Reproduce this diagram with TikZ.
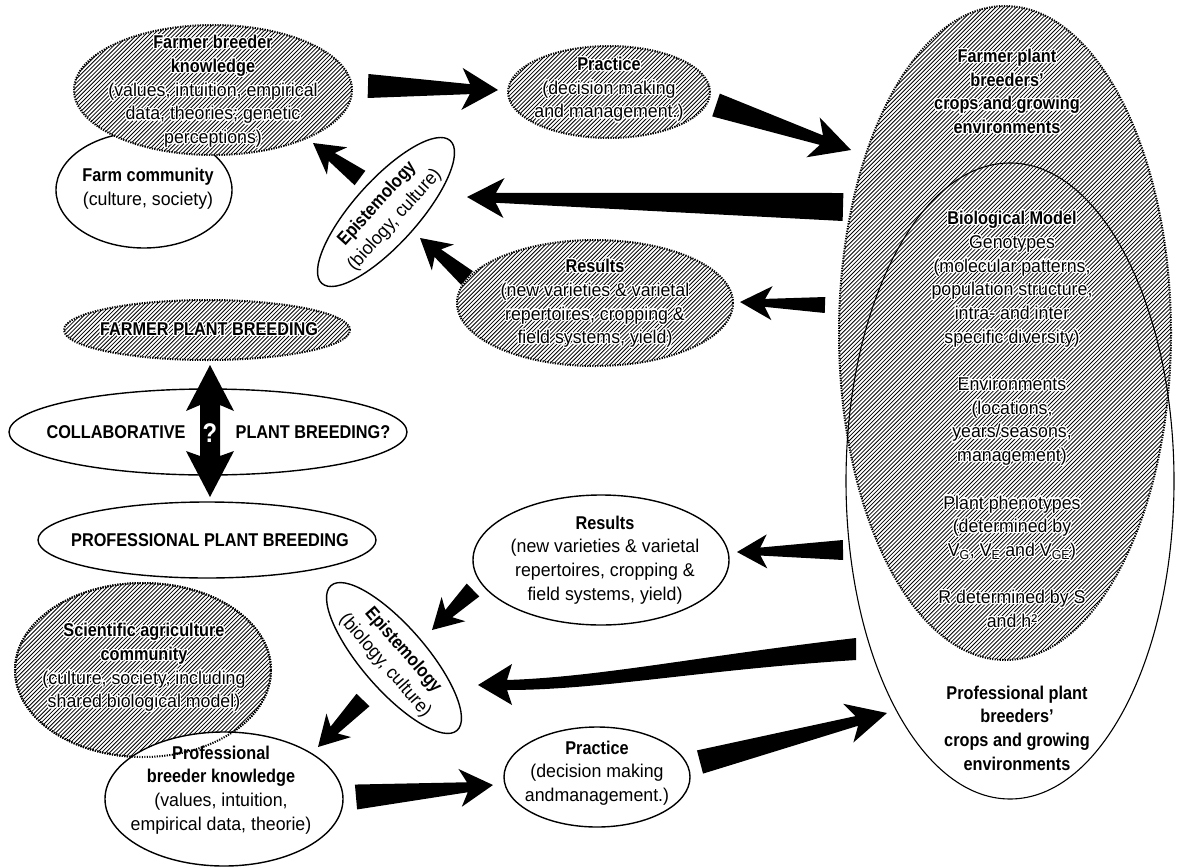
\documentclass[tikz,border=0pt]{standalone}
\usepackage{fontspec}
\setmainfont{Liberation Sans}[FakeStretch=0.96, BoldFeatures={FakeStretch=0.88}]
\usepackage{contour}
\contourlength{1.1pt}
\contournumber{24}
\usetikzlibrary{shapes.geometric,calc}
\newcommand{\hl}[1]{\contour{white}{#1}}
\newcommand{\fatarrow}[6]{%
  \fill let \p1=(#1), \p2=(#2),
    \n1={atan2(\y2-\y1,\x2-\x1)},
    \n2={veclen(\x2-\x1,\y2-\y1)} in
    ($(\p1)+(\n1+90:#3pt)$) --
    ($(\p1)+(\n1:\n2-0.78*#5pt)+(\n1+90:#4pt)$) --
    ($(\p1)+(\n1:\n2-#5pt)+(\n1+90:#6pt)$) --
    (\p2) --
    ($(\p1)+(\n1:\n2-#5pt)+(\n1-90:#6pt)$) --
    ($(\p1)+(\n1:\n2-0.78*#5pt)+(\n1-90:#4pt)$) --
    ($(\p1)+(\n1-90:#3pt)$) -- cycle;}
\begin{document}
\begin{tikzpicture}[x=1pt,y=-1pt,
  txt/.style={align=center, inner sep=0pt, font=\fontsize{18.5}{23.7}\selectfont},
  hatchfill/.style={path picture={
     \foreach \k in {0,...,250}
       \draw[solid, line width=0.8pt]
         ([xshift=\k*4.1pt-660pt]path picture bounding box.south west) -- ++(700pt,700pt);}},
  dotline/.style={draw, line width=2pt, dash pattern=on 1.2pt off 1.3pt},
  hatchE/.style={ellipse, inner sep=0pt, fill=white, hatchfill, dotline},
  solidE/.style={ellipse, inner sep=0pt, fill=white, draw, line width=1.4pt},
]
\useasboundingbox (0,0) rectangle (1177,867);

% big ellipses on the right
\node[ellipse, inner sep=0pt, draw, line width=1.1pt, minimum width=328pt, minimum height=636pt] (bigw) at (1010,481) {};
\node[ellipse, inner sep=0pt, hatchfill, dotline,
      minimum width=332pt, minimum height=654pt] (bigh) at (1005,333) {};

\node[txt] (bight1) at (1007,92) {\textbf{\hl{Farmer plant}}\\\textbf{\hl{breeders’}}\\\textbf{\hl{crops and growing}}\\\textbf{\hl{environments}}};
\node[txt] (bight2) at (1012,420) {\textbf{\hl{Biological Model}}\\\hl{Genotypes}\\\hl{(molecular patterns,}\\\hl{population structure,}\\\hl{intra- and inter}\\\hl{specific diversity)}\\[23.7pt]
\hl{Environments}\\\hl{(locations,}\\\hl{years/seasons,}\\\hl{management)}\\[23.7pt]
\hl{Plant phenotypes}\\\hl{(determined by}\\\hl{V\textsubscript{G}, V\textsubscript{E} and V\textsubscript{GE})}\\[23.7pt]
\hl{R determined by S}\\\hl{and h²}};
\node[txt] (bigwt) at (1017,728) {\textbf{Professional plant}\\\textbf{breeders’}\\\textbf{crops and growing}\\\textbf{environments}};

% top-left cluster
\node[solidE, minimum width=176pt, minimum height=116pt] (farmc) at (144,190) {};
\node[txt] (farmct) at (148,189) {\textbf{Farm community}\\(culture, society)};
\node[hatchE, minimum width=278pt, minimum height=130pt] (fbk) at (213,90) {};
\node[txt] (fbkt) at (213,92) {\textbf{\hl{Farmer breeder}}\\\textbf{\hl{knowledge}}\\\hl{(values, intuition, empirical}\\\hl{data, theories; genetic}\\\hl{perceptions)}};

\node[hatchE, minimum width=202pt, minimum height=92pt] (prac1) at (609,92) {};
\node[txt] (prac1t) at (609,90) {\textbf{\hl{Practice}}\\\hl{(decision making}\\\hl{and management.)}};

\node[solidE, rotate=48, minimum width=192pt, minimum height=64pt] (epi1) at (386,212) {};
\node[txt, rotate=48] (epi1t) at (386,212) {\textbf{Epistemology}\\(biology, culture)};

\node[hatchE, minimum width=276pt, minimum height=126pt] (res1) at (595,303) {};
\node[txt] (res1t) at (595,304) {\textbf{\hl{Results}}\\\hl{(new varieties \& varietal}\\\hl{repertoires, cropping \&}\\\hl{field systems, yield)}};

% middle left
\node[hatchE, minimum width=286pt, minimum height=60pt] (fpb) at (207,330) {};
\node[txt] (fpbt) at (209,330) {\textbf{\hl{FARMER PLANT BREEDING}}};
\node[solidE, minimum width=398pt, minimum height=86pt] (collab) at (208,432) {};
\node[txt] (collab1) at (116,432) {\textbf{COLLABORATIVE}};
\node[txt] (collab2) at (313,432) {\textbf{PLANT BREEDING?}};
\node[solidE, minimum width=338pt, minimum height=76pt] (pro) at (207,540) {};
\node[txt] (prot) at (210,540) {\textbf{PROFESSIONAL PLANT BREEDING}};

% double arrow
\coordinate (dat) at (210,365);
\coordinate (dab) at (210,497);
\fill (dat) -- (234,411) -- (220,405) -- (220,456) -- (234,451) -- (dab) -- (186,451) -- (200,456) -- (200,405) -- (186,411) -- cycle;
\node[inner sep=0pt, text=white, font=\fontsize{27}{28}\bfseries] (qm) at (210,433) {?};

% bottom left cluster
\node[hatchE, minimum width=256pt, minimum height=174pt] (sac) at (143,670) {};
\node[txt] (sact) at (144,668) {\textbf{\hl{Scientific agriculture}}\\\textbf{\hl{community}}\\\hl{(culture, society, including}\\\hl{shared biological model)}};
\node[solidE, minimum width=238pt, minimum height=134pt] (pbk) at (224,799) {};
\node[ellipse, inner sep=0pt, dotline, minimum width=256pt, minimum height=174pt] (sacb) at (143,670) {};
\node[txt] (pbkt) at (221,790) {\textbf{Professional}\\\textbf{breeder knowledge}\\(values, intuition,\\empirical data, theorie)};

\node[solidE, rotate=-49, minimum width=192pt, minimum height=64pt] (epi2) at (394,658) {};
\node[txt, rotate=-49] (epi2t) at (394,658) {\textbf{Epistemology}\\(biology, culture)};

\node[solidE, minimum width=256pt, minimum height=130pt] (res2) at (601,560) {};
\node[txt] (res2t) at (605,560) {\textbf{Results}\\(new varieties \& varietal\\repertoires, cropping \&\\field systems, yield)};

\node[solidE, minimum width=186pt, minimum height=100pt] (prac2) at (597,777) {};
\node[txt] (prac2t) at (597,773) {\textbf{Practice}\\(decision making\\andmanagement.)};

% arrows
\coordinate (a1s) at (368,86);   \coordinate (a1e) at (498,90);
\coordinate (a2s) at (716,105);  \coordinate (a2e) at (851,150);
\coordinate (a3s) at (843,207);  \coordinate (a3e) at (467,197);
\coordinate (a4s) at (825,305);  \coordinate (a4e) at (740,302);
\coordinate (a5s) at (467,278);  \coordinate (a5e) at (420,238);
\coordinate (a6s) at (360,178);  \coordinate (a6e) at (313,143);
\coordinate (a7s) at (843,550);  \coordinate (a7e) at (737,552);
\coordinate (a8s) at (473,590);  \coordinate (a8e) at (432,630);
\coordinate (a10s) at (363,700); \coordinate (a10e) at (318,747);
\coordinate (a11s) at (356,797); \coordinate (a11e) at (493,785);
\coordinate (a12s) at (700,762); \coordinate (a12e) at (887,713);
\coordinate (a9s) at (856,649);  \coordinate (a9e) at (478,685);

\fatarrow{a1s}{a1e}{12}{5}{36}{21}
\fatarrow{a2s}{a2e}{12}{5}{40}{21}
\fatarrow{a3s}{a3e}{14}{5}{37}{20}
\fatarrow{a4s}{a4e}{8}{4}{32}{17}
\fatarrow{a5s}{a5e}{9}{5}{30}{17}
\fatarrow{a6s}{a6e}{9}{5}{30}{17}
\fatarrow{a7s}{a7e}{10}{4}{30}{17}
\fatarrow{a8s}{a8e}{9}{5}{30}{17}
\fatarrow{a10s}{a10e}{9}{5}{30}{17}
\fatarrow{a11s}{a11e}{12.5}{5}{33}{19}
\fatarrow{a12s}{a12e}{12}{5}{40}{20}
\fill ($(a9s)+(0,-11)$) .. controls (700,656) and (600,677) .. (507,680) -- (512,664)
   -- (a9e) -- (512,705) -- (507,690) .. controls (600,690) and (700,670) .. ($(a9s)+(0,11)$) -- cycle;
\end{tikzpicture}
\end{document}
